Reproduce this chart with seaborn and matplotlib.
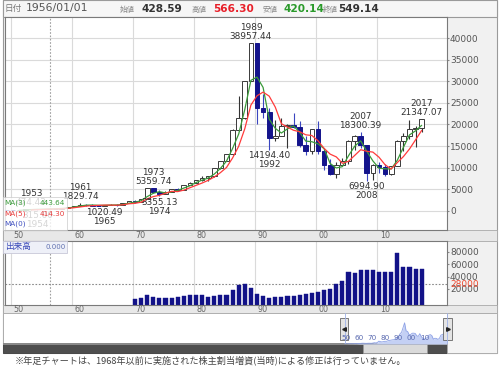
import numpy as np
import pandas as pd
import matplotlib
matplotlib.use("Agg")
import matplotlib.pyplot as plt
import matplotlib.transforms as mtrans
from matplotlib.patches import Rectangle
import seaborn as sns

# ---------------- data ----------------
years = list(range(1949, 2018))
opens = [176.21, 109.91, 101.91, 166.06, 362.64, 377.95, 356.09, 428.59, 549.14, 474.55,
         666.54, 874.88, 1117.06, 1432.60, 1420.43, 1225.10, 1216.55, 1417.83, 1432.58, 1283.47,
         1714.89, 2358.96, 1987.14, 2713.74, 5207.94, 4306.80, 3817.22, 4358.60, 4990.52, 4865.60,
         6001.85, 6569.47, 7116.38, 7681.84, 8016.67, 9893.82, 11542.60, 13113.32, 18701.30, 21564.00,
         30159.00, 38915.87, 23848.71, 22983.77, 16924.95, 17417.24, 19723.06, 19868.15, 19361.35, 15258.74,
         13842.17, 18934.34, 13785.69, 10542.62, 8578.95, 10676.64, 11488.76, 16111.43, 17225.83, 15307.78,
         8859.56, 10546.44, 10228.92, 8455.35, 10395.18, 16291.31, 17450.77, 19033.71, 19298.68]
highs = [176.21, 114.99, 166.06, 362.64, 474.43, 385.00, 426.00, 566.30, 595.46, 666.54,
         874.88, 1200.00, 1829.74, 1589.76, 1634.37, 1369.00, 1417.83, 1588.73, 1506.00, 1851.00,
         2358.96, 2534.45, 2740.98, 5207.94, 5359.74, 4787.54, 4564.52, 4990.52, 5287.65, 6001.85,
         6590.69, 7188.28, 8019.14, 8026.99, 9893.82, 11577.44, 13128.94, 18936.24, 26646.43, 30159.00,
         38957.44, 38915.87, 27146.91, 23901.62, 21148.11, 21552.81, 20011.76, 22666.80, 20910.79, 17352.95,
         19036.08, 20833.21, 14556.11, 12081.43, 11238.63, 12195.66, 16445.56, 17563.37, 18300.39, 15307.78,
         10767.00, 11408.17, 10891.60, 10433.63, 16320.22, 18030.83, 20952.71, 19592.90, 21347.07]
lows = [107.00, 85.25, 96.00, 160.00, 295.18, 315.00, 355.00, 420.14, 471.53, 474.55,
        650.00, 870.00, 1117.06, 1216.04, 1200.00, 1202.00, 1020.49, 1364.00, 1250.00, 1266.00,
        1714.89, 1929.64, 1981.74, 2712.00, 4187.79, 3355.13, 3814.28, 4358.60, 4597.26, 4865.60,
        5934.87, 6475.93, 6956.50, 6849.78, 7803.18, 9703.35, 11542.60, 12881.50, 18544.05, 21217.04,
        30159.00, 20221.86, 21456.76, 14194.40, 16078.71, 17369.74, 14485.41, 19161.71, 14775.22, 12879.97,
        13122.58, 13182.51, 9382.95, 8303.39, 7603.76, 10299.43, 10770.58, 14045.53, 14669.85, 6994.90,
        7054.98, 8796.45, 8135.79, 8238.96, 10395.18, 13885.11, 16592.57, 14864.01, 18224.68]
closes = [109.91, 101.91, 166.06, 362.64, 377.95, 356.09, 425.69, 549.14, 474.55, 666.54,
          874.88, 1117.06, 1432.60, 1420.43, 1225.10, 1216.55, 1417.83, 1432.58, 1283.47, 1714.89,
          2358.96, 1987.14, 2713.74, 5207.94, 4306.80, 3817.22, 4358.60, 4990.52, 4865.60, 6001.85,
          6569.47, 7116.38, 7681.84, 8016.67, 9893.82, 11542.60, 13113.32, 18701.30, 21564.00, 30159.00,
          38915.87, 23848.71, 22983.77, 16924.95, 17417.24, 19723.06, 19868.15, 19361.35, 15258.74, 13842.17,
          18934.34, 13785.69, 10542.62, 8578.95, 10676.64, 11488.76, 16111.43, 17225.83, 15307.78, 8859.56,
          10546.44, 10228.92, 8455.35, 10395.18, 16291.31, 17450.77, 19033.71, 19114.37, 21300.00]

vol_years = list(range(1970, 2018))
volumes = [3900, 6000, 9800, 6600, 5000, 5000, 6000, 6600, 8700, 9800,
           9800, 9800, 7100, 9200, 9800, 10800, 18400, 26400, 27500, 21000,
           11400, 8200, 5000, 7600, 7600, 9200, 9200, 9800, 12400, 14000,
           15100, 18400, 19500, 27500, 32300, 47300, 45200, 50500, 51100, 51100,
           47300, 46800, 46800, 77400, 54900, 55900, 52700, 52700]

ann_high_years = [1953, 1961, 1973, 1989, 2007, 2017]
ann_low_years = [1954, 1965, 1974, 1992, 2008]
price_ticks = [0, 5000, 10000, 15000, 20000, 25000, 30000, 35000, 40000]
vol_ticks = [20000, 40000, 60000, 80000]
vol_ref = 28000
decade_years = [1950, 1960, 1970, 1980, 1990, 2000, 2010]
decade_labels = ["50", "60", "70", "80", "90", "00", "10"]
cursor_year = 1956
header = {"date": "1956/01/01", "open": "428.59", "high": "566.30", "low": "420.14", "close": "549.14"}
ma_periods = [3, 5]
footnote = "※年足チャートは、1968年以前に実施された株主割当増資(当時)による修正は行っていません。"

# ---------------- style ----------------
sns.set_style("white")
plt.rcParams["font.family"] = ["DejaVu Sans", "Noto Sans CJK JP"]

W, H = 500, 367
fig = plt.figure(figsize=(5, 3.67), dpi=100)


def px_axes(x0, y0, x1, y1, z=0):
    a = fig.add_axes([x0 / W, 1 - y1 / H, (x1 - x0) / W, (y1 - y0) / H])
    a.set_zorder(z)
    return a


df = pd.DataFrame({"year": years, "open": opens, "high": highs, "low": lows, "close": closes})
df["ma3"] = df["close"].rolling(ma_periods[0]).mean()
df["ma5"] = df["close"].rolling(ma_periods[1]).mean()
up = df["close"] >= df["open"]

# background
bg = px_axes(0, 0, W, H, z=-5)
bg.set_xlim(0, W); bg.set_ylim(H, 0); bg.axis("off")
bg.add_patch(Rectangle((3, 0), 494, 353, facecolor="#f1f1f1", edgecolor="#9a9a9a", lw=0.8))
bg.add_patch(Rectangle((3, 0), 494, 17, facecolor="#f6f6f6", edgecolor="#9a9a9a", lw=0.8))
bg.add_patch(Rectangle((3, 230), 494, 11, facecolor="#e8e8e8", edgecolor="#a8a8a8", lw=0.6))
bg.add_patch(Rectangle((3, 305), 494, 8, facecolor="#e8e8e8", edgecolor="#a8a8a8", lw=0.6))
bg.add_patch(Rectangle((3, 313), 494, 40, facecolor="white", edgecolor="#a8a8a8", lw=0.6))
bg.add_patch(Rectangle((3, 343), 444, 10, facecolor="#4e4e4e", edgecolor="#333333", lw=0.5))
bg.add_patch(Rectangle((3, 343), 444, 2, facecolor="#8a8a8a", edgecolor="none"))
bg.add_patch(Rectangle((363, 344), 64, 9, facecolor="#dadada", edgecolor="#9a9a9a", lw=0.5))
bg.add_patch(Rectangle((447, 313), 50, 40, facecolor="#f4f4f4", edgecolor="#a8a8a8", lw=0.6))

x_lo, x_hi = 1948.69, 2021.15
grid_shift = -0.33
grid_c = "#dadada"

# ---------------- main price chart ----------------
ax = px_axes(5, 17, 447, 230, z=1)
ax.set_facecolor("white")
ax.set_xlim(x_lo, x_hi)
ax.set_ylim(-4420, 44880)
for v in price_ticks:
    ax.axhline(v, color=grid_c, lw=0.8, zorder=0)
for d in decade_years:
    ax.axvline(d + grid_shift, color=grid_c, lw=0.8, zorder=0)
ax.axvline(cursor_year, color="#a0a0a0", lw=0.8, ls=(0, (1.5, 1.5)), zorder=1)

down_c = "#14148c"
wick_c = np.where(up, "#333333", "#3a46c0")
ax.vlines(df["year"], df["low"], df["high"], colors=wick_c, lw=0.8, zorder=2)
body_bot = np.minimum(df["open"], df["close"])
body_h = np.abs(df["close"] - df["open"])
ax.bar(df["year"], body_h, bottom=body_bot, width=0.78,
       color=np.where(up, "white", down_c), edgecolor=np.where(up, "#3a3a3a", down_c),
       linewidth=0.7, zorder=3)

sns.lineplot(data=df, x="year", y="ma3", ax=ax, color="#3a9a3a", lw=0.9, zorder=4)
sns.lineplot(data=df, x="year", y="ma5", ax=ax, color="#ff3b3b", lw=0.9, zorder=4)

for y in ann_high_years:
    v = df.loc[df["year"] == y, "high"].iloc[0]
    ax.annotate(f"{y}\n{v:.2f}", (y, v), xytext=(0, 1.2), textcoords="offset points",
                ha="center", va="bottom", fontsize=6.4, color="#333333", linespacing=1.0, zorder=5)
for y in ann_low_years:
    v = df.loc[df["year"] == y, "low"].iloc[0]
    ax.annotate(f"{v:.2f}\n{y}", (y, v), xytext=(0, -1.2), textcoords="offset points",
                ha="center", va="top", fontsize=6.4, color="#333333", linespacing=1.0, zorder=5)

ax.set_xlabel(""); ax.set_ylabel("")
ax.set_xticks([])
ax.yaxis.tick_right()
ax.set_yticks(price_ticks)
ax.set_yticklabels([str(v) for v in price_ticks])
ax.tick_params(axis="y", length=1.5, pad=0.6, labelsize=6.5, labelcolor="#555555", color="#888888")
for s in ax.spines.values():
    s.set_color("#7a7a7a"); s.set_linewidth(0.8)

# ---------------- volume chart ----------------
axv = px_axes(5, 241, 447, 305, z=1)
axv.set_facecolor("white")
axv.set_xlim(x_lo, x_hi)
vmin, vmax = -5800, 97240
axv.set_ylim(vmin, vmax)
for d in decade_years:
    axv.axvline(d + grid_shift, color=grid_c, lw=0.8, zorder=0)
axv.axvline(cursor_year, color="#a0a0a0", lw=0.8, ls=(0, (1.5, 1.5)), zorder=1)
axv.axhline(vol_ref, color="#8a8a8a", lw=0.8, ls=(0, (1.5, 1.5)), zorder=1)
axv.bar(vol_years, np.array(volumes) - vmin, bottom=vmin, width=0.68, color="#121288",
        edgecolor="#121288", linewidth=0.3, zorder=2)
axv.set_xticks([])
axv.yaxis.tick_right()
axv.set_yticks(vol_ticks)
axv.set_yticklabels([str(v) for v in vol_ticks])
axv.tick_params(axis="y", length=1.5, pad=0.6, labelsize=6.5, labelcolor="#555555", color="#888888")
axv.annotate(str(vol_ref), (1.0, vol_ref), xycoords=("axes fraction", "data"),
             xytext=(2.1, 0), textcoords="offset points", ha="left", va="center",
             fontsize=6.5, color="#ee4a30", annotation_clip=False)
for s in axv.spines.values():
    s.set_color("#7a7a7a"); s.set_linewidth(0.8)

# decade labels on strips
for strip_y in (235.5, 309):
    tr = mtrans.blended_transform_factory(ax.transData, fig.transFigure)
    for d, lab in zip(decade_years, decade_labels):
        fig.text(d + grid_shift + 0.45, 1 - strip_y / H, lab, transform=tr, ha="left",
                 va="center", fontsize=5.8, color="#666666")

# ---------------- navigator ----------------
nav = px_axes(344, 318, 447, 344, z=1)
nav.set_xlim(years[0], years[-1])
nav.set_ylim(0, 47700)
nav.fill_between(df["year"], df["close"], 0, color="#c4d0f4", lw=0)
sns.lineplot(data=df, x="year", y="close", ax=nav, color="#8ea2e6", lw=0.6)
nav.axis("off")

# ---------------- overlay ----------------
ov = px_axes(0, 0, W, H, z=10)
ov.set_xlim(0, W); ov.set_ylim(H, 0); ov.axis("off")
ov.patch.set_alpha(0)

# header
ov.text(5, 8.5, "日付", fontsize=6.2, color="#777777", va="center")
ov.text(26, 8.5, header["date"], fontsize=7.8, color="#555555", va="center")
items = [("始値", 120, header["open"], 141, "#333333"),
         ("高値", 192, header["high"], 213, "#e8202a"),
         ("安値", 263, header["low"], 283, "#2a9a2a"),
         ("終値", 323, header["close"], 338, "#333333")]
for lab, lx, val, vx, c in items:
    ov.text(lx, 9, lab, fontsize=5.4, color="#888888", va="center")
    ov.text(vx, 8.5, val, fontsize=7.6, color=c, va="center", fontweight="bold")

# MA legend box
ov.add_patch(Rectangle((3, 197), 64, 33, facecolor="white", alpha=0.8, edgecolor="#c8c8c8", lw=0.6))
last = df[df["year"] == cursor_year].iloc[0]
ov.text(4, 203, f"MA({ma_periods[0]})", fontsize=5.2, color="#3a9a3a", va="center")
ov.text(65, 203, f"{last['ma3']:.2f}", fontsize=5.2, color="#3a9a3a", va="center", ha="right")
ov.text(4, 213.5, f"MA({ma_periods[1]})", fontsize=5.2, color="#e83a3a", va="center")
ov.text(65, 213.5, f"{last['ma5']:.2f}", fontsize=5.2, color="#e83a3a", va="center", ha="right")
ov.text(4, 224, "MA(0)", fontsize=5.2, color="#4050c0", va="center")

# volume label box
ov.add_patch(Rectangle((3, 241), 64, 12, facecolor="#eef0f8", edgecolor="#c8c8d8", lw=0.6))
ov.text(5, 247, "出来高", fontsize=6.2, color="#3848b8", va="center")
ov.text(46, 247, "0.000", fontsize=5.0, color="#6070b0", va="center")

# navigator labels and handles
for i, lab in enumerate(decade_labels):
    ov.text(346 + 13.1 * i, 338, lab, fontsize=5.2, color="#5a6ab0", ha="center", va="center")
ov.plot([345, 345], [313, 343], color="#9fb2e8", lw=0.6)
ov.plot([447, 447], [313, 343], color="#9fb2e8", lw=0.6)
ov.add_patch(Rectangle((340, 318), 8, 22, facecolor="#e4e4e4", edgecolor="#666666", lw=0.6))
ov.add_patch(Rectangle((443, 318), 9, 22, facecolor="#e4e4e4", edgecolor="#666666", lw=0.6))
ov.plot([344], [329], marker="<", ms=2.6, color="#222222")
ov.plot([447.5], [329], marker=">", ms=2.6, color="#222222")

# footnote
ov.text(15, 360, footnote, fontsize=6.6, color="#444444", va="center",
        family=["Noto Sans CJK JP", "DejaVu Sans"])

fig.savefig("out.png", dpi=100)
